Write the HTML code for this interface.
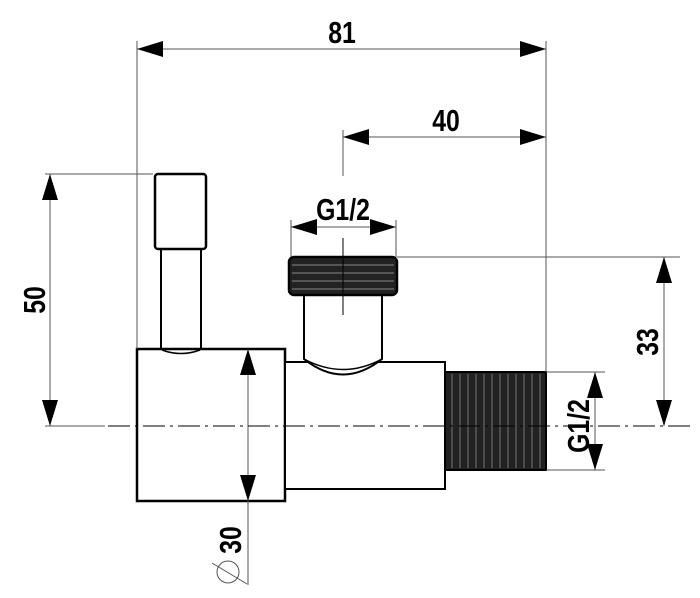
<!DOCTYPE html>
<html><head><meta charset="utf-8"><style>
html,body{margin:0;padding:0;background:#fff;width:700px;height:598px;overflow:hidden}
text{font-family:"Liberation Sans Narrow","Liberation Sans",sans-serif;font-weight:bold;font-size:31px;fill:#000}
</style></head><body>
<svg width="700" height="598" viewBox="0 0 700 598" xmlns="http://www.w3.org/2000/svg">
<defs>
<marker id="a" markerWidth="26" markerHeight="16" refX="26" refY="8" orient="auto" markerUnits="userSpaceOnUse"><path d="M0,0 L26,8 L0,16 Z" fill="#000"/></marker>
<marker id="b" markerWidth="26" markerHeight="16" refX="0" refY="8" orient="auto" markerUnits="userSpaceOnUse"><path d="M26,0 L0,8 L26,16 Z" fill="#000"/></marker>
</defs>
<g stroke="#000" stroke-width="2.5" fill="#fff">
<rect x="161" y="248" width="40" height="104" stroke-width="2"/>
<rect x="155" y="174" width="51" height="75" rx="3"/>
<rect x="137" y="349" width="148" height="152"/>
<rect x="285" y="362" width="160" height="127" stroke-width="2"/>
<path d="M304,295 L304,359 Q343,390 382,359 L382,295" stroke-width="2"/>
<path d="M304,359 Q343,380 382,359" fill="none" stroke-width="1.5"/>
<path d="M162,350 Q181,357 200,350" fill="none" stroke-width="1.5"/>
<rect x="289" y="257" width="108" height="38" rx="5" fill="#222"/>
<rect x="445" y="372" width="101" height="98" fill="#222" stroke-width="2"/>
</g>
<g stroke="#888" stroke-width="1">
<line x1="292" y1="265" x2="394" y2="265"/><line x1="292" y1="273" x2="394" y2="273"/><line x1="292" y1="281" x2="394" y2="281"/><line x1="292" y1="289" x2="394" y2="289"/>
</g>
<g stroke="#777" stroke-width="1">
<line x1="452" y1="374" x2="452" y2="468"/><line x1="460" y1="374" x2="460" y2="468"/><line x1="468" y1="374" x2="468" y2="468"/><line x1="476" y1="374" x2="476" y2="468"/><line x1="484" y1="374" x2="484" y2="468"/><line x1="492" y1="374" x2="492" y2="468"/><line x1="500" y1="374" x2="500" y2="468"/><line x1="508" y1="374" x2="508" y2="468"/><line x1="516" y1="374" x2="516" y2="468"/><line x1="524" y1="374" x2="524" y2="468"/><line x1="532" y1="374" x2="532" y2="468"/><line x1="540" y1="374" x2="540" y2="468"/>
</g>
<g stroke="#555" stroke-width="1" fill="none">
<line x1="137" y1="41" x2="137" y2="349"/>
<line x1="546" y1="41" x2="546" y2="372"/>
<line x1="343" y1="130" x2="343" y2="176"/>
<line x1="45" y1="174" x2="153" y2="174"/>
<line x1="45" y1="426" x2="105" y2="426"/>
<line x1="396" y1="220" x2="396" y2="257"/>
<line x1="291" y1="220" x2="291" y2="257"/>
<line x1="397" y1="257" x2="680" y2="257"/>
<line x1="546" y1="372" x2="605" y2="372"/>
<line x1="546" y1="470" x2="605" y2="470"/>
<line x1="343" y1="238" x2="343" y2="315" stroke="#000"/>
<line x1="137" y1="49" x2="546" y2="49" marker-start="url(#b)" marker-end="url(#a)"/>
<line x1="343" y1="137" x2="546" y2="137" marker-start="url(#b)" marker-end="url(#a)"/>
<line x1="50" y1="174" x2="50" y2="426" marker-start="url(#b)" marker-end="url(#a)"/>
<line x1="291" y1="227" x2="396" y2="227" marker-start="url(#b)" marker-end="url(#a)"/>
<line x1="664" y1="257" x2="664" y2="426" marker-start="url(#b)" marker-end="url(#a)"/>
<line x1="595" y1="372" x2="595" y2="470" marker-start="url(#b)" marker-end="url(#a)"/>
<line x1="248" y1="349" x2="248" y2="501" marker-start="url(#b)" marker-end="url(#a)"/>
<line x1="248" y1="501" x2="248" y2="585"/>
<line x1="108" y1="426" x2="690" y2="426" stroke="#000" stroke-dasharray="22,5,3,5"/>
<circle cx="228" cy="572" r="11"/>
<line x1="212" y1="563" x2="247" y2="584"/>
</g>
<text transform="translate(342,43) scale(0.8,1)" text-anchor="middle">81</text>
<text transform="translate(446,131) scale(0.8,1)" text-anchor="middle">40</text>
<text transform="translate(343,220) scale(0.8,1)" text-anchor="middle">G1/2</text>
<text transform="translate(45,300) rotate(-90) scale(0.8,1)" text-anchor="middle">50</text>
<text transform="translate(658,342) rotate(-90) scale(0.8,1)" text-anchor="middle">33</text>
<text transform="translate(589,426) rotate(-90) scale(0.8,1)" text-anchor="middle">G1/2</text>
<text transform="translate(241,540) rotate(-90) scale(0.8,1)" text-anchor="middle">30</text>
</svg>
</body></html>
